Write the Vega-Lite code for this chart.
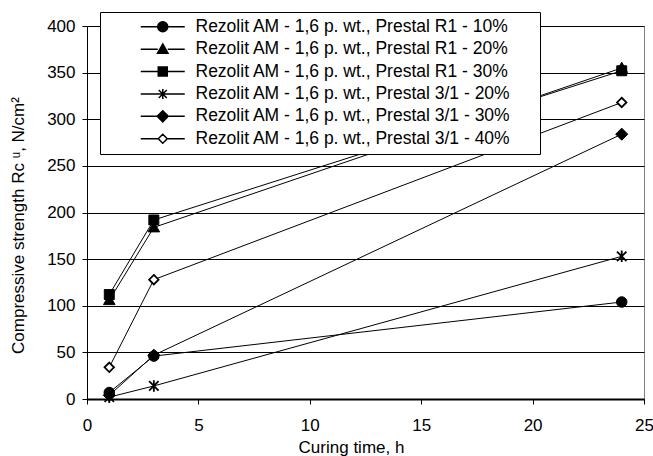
{
  "$schema": "https://vega.github.io/schema/vega-lite/v6.json",
  "width": 557,
  "height": 373,
  "autosize": "none",
  "padding": {"left": 87, "top": 26, "right": 9, "bottom": 57},
  "background": "white",
  "config": {
    "font": "Liberation Sans",
    "view": {"stroke": "#808080", "strokeWidth": 1},
    "axis": {
      "labelFont": "Liberation Sans",
      "labelFontSize": 17,
      "labelColor": "black",
      "titleFont": "Liberation Sans",
      "titleFontSize": 17,
      "titleFontWeight": "normal",
      "titleColor": "black",
      "tickColor": "black",
      "tickSize": 5,
      "domainColor": "black"
    },
    "legend": {
      "orient": "none",
      "legendX": 13,
      "legendY": -14,
      "strokeColor": "black",
      "fillColor": "white",
      "padding": 6,
      "labelFont": "Liberation Sans",
      "labelFontSize": 17.5,
      "labelColor": "black",
      "titleFont": "Liberation Sans",
      "titleFontSize": 17.5,
      "titleOrient": "right",
      "titlePadding": 23,
      "symbolSize": 100,
      "symbolOffset": 48,
      "symbolOpacity": 1,
      "labelOffset": 24,
      "rowPadding": 3.4,
      "labelLimit": 600
    }
  },
  "data": {
    "values": [
      {"s": "Rezolit AM - 1,6 p. wt., Prestal R1 - 10%", "t": 1, "v": 7},
      {"s": "Rezolit AM - 1,6 p. wt., Prestal R1 - 10%", "t": 3, "v": 46},
      {"s": "Rezolit AM - 1,6 p. wt., Prestal R1 - 10%", "t": 24, "v": 104},
      {"s": "Rezolit AM - 1,6 p. wt., Prestal R1 - 20%", "t": 1, "v": 106},
      {"s": "Rezolit AM - 1,6 p. wt., Prestal R1 - 20%", "t": 3, "v": 184},
      {"s": "Rezolit AM - 1,6 p. wt., Prestal R1 - 20%", "t": 24, "v": 355},
      {"s": "Rezolit AM - 1,6 p. wt., Prestal R1 - 30%", "t": 1, "v": 112},
      {"s": "Rezolit AM - 1,6 p. wt., Prestal R1 - 30%", "t": 3, "v": 192},
      {"s": "Rezolit AM - 1,6 p. wt., Prestal R1 - 30%", "t": 24, "v": 352},
      {"s": "Rezolit AM - 1,6 p. wt., Prestal 3/1 - 20%", "t": 1, "v": 2},
      {"s": "Rezolit AM - 1,6 p. wt., Prestal 3/1 - 20%", "t": 3, "v": 14},
      {"s": "Rezolit AM - 1,6 p. wt., Prestal 3/1 - 20%", "t": 24, "v": 153},
      {"s": "Rezolit AM - 1,6 p. wt., Prestal 3/1 - 30%", "t": 1, "v": 4},
      {"s": "Rezolit AM - 1,6 p. wt., Prestal 3/1 - 30%", "t": 3, "v": 47},
      {"s": "Rezolit AM - 1,6 p. wt., Prestal 3/1 - 30%", "t": 24, "v": 284},
      {"s": "Rezolit AM - 1,6 p. wt., Prestal 3/1 - 40%", "t": 1, "v": 34},
      {"s": "Rezolit AM - 1,6 p. wt., Prestal 3/1 - 40%", "t": 3, "v": 128},
      {"s": "Rezolit AM - 1,6 p. wt., Prestal 3/1 - 40%", "t": 24, "v": 318}
    ]
  },
  "encoding": {
    "x": {
      "field": "t",
      "type": "quantitative",
      "scale": {"domain": [0, 25], "nice": false},
      "axis": {
        "values": [0, 5, 10, 15, 20, 25],
        "grid": false,
        "domainWidth": 2,
        "labelPadding": 13,
        "title": "Curing time, h",
        "titlePadding": 6,
        "titleX": 264,
        "labelFlush": false
      }
    },
    "y": {
      "field": "v",
      "type": "quantitative",
      "scale": {"domain": [0, 400], "nice": false},
      "axis": {
        "values": [0, 50, 100, 150, 200, 250, 300, 350, 400],
        "grid": true,
        "gridColor": "black",
        "gridWidth": 1,
        "domainWidth": 1,
        "labelPadding": 7,
        "title": "Compressive strength Rc ᵘ, N/cm²",
        "titlePadding": 19,
        "titleY": 199
      }
    }
  },
  "layer": [
    {
      "mark": {"type": "line", "color": "black", "strokeWidth": 1},
      "encoding": {"detail": {"field": "s", "type": "nominal"}}
    },
    {
      "mark": {"type": "point", "filled": true, "fill": "black", "stroke": "black", "strokeWidth": 1, "size": 110, "opacity": 1, "shape": "M1,0A1,1,0,1,1,-1,0A1,1,0,1,1,1,0Z"},
      "transform": [{"filter": "datum.s == 'Rezolit AM - 1,6 p. wt., Prestal R1 - 10%'"}]
    },
    {
      "mark": {"type": "point", "filled": true, "fill": "black", "stroke": "black", "strokeWidth": 1, "size": 110, "opacity": 1, "shape": "M0,-1.1L1.1,0.85L-1.1,0.85Z"},
      "transform": [{"filter": "datum.s == 'Rezolit AM - 1,6 p. wt., Prestal R1 - 20%'"}]
    },
    {
      "mark": {"type": "point", "filled": true, "fill": "black", "stroke": "black", "strokeWidth": 1, "size": 110, "opacity": 1, "shape": "M-0.95,-0.95L0.95,-0.95L0.95,0.95L-0.95,0.95Z"},
      "transform": [{"filter": "datum.s == 'Rezolit AM - 1,6 p. wt., Prestal R1 - 30%'"}]
    },
    {
      "mark": {"type": "point", "filled": false, "stroke": "black", "strokeWidth": 1.8, "size": 110, "opacity": 1, "shape": "M-0.9,-0.9L0.9,0.9M-0.9,0.9L0.9,-0.9M0,-1.1L0,1.1"},
      "transform": [{"filter": "datum.s == 'Rezolit AM - 1,6 p. wt., Prestal 3/1 - 20%'"}]
    },
    {
      "mark": {"type": "point", "filled": true, "fill": "black", "stroke": "black", "strokeWidth": 1, "size": 110, "opacity": 1, "shape": "M0,-1.15L1.15,0L0,1.15L-1.15,0Z"},
      "transform": [{"filter": "datum.s == 'Rezolit AM - 1,6 p. wt., Prestal 3/1 - 30%'"}]
    },
    {
      "mark": {"type": "point", "filled": true, "fill": "white", "stroke": "black", "strokeWidth": 1.8, "size": 110, "opacity": 1, "shape": "M0,-0.9L0.9,0L0,0.9L-0.9,0Z"},
      "transform": [{"filter": "datum.s == 'Rezolit AM - 1,6 p. wt., Prestal 3/1 - 40%'"}]
    },
    {
      "mark": {"type": "point", "filled": true, "stroke": "black", "opacity": 0},
      "encoding": {
        "shape": {
          "field": "s",
          "type": "nominal",
          "scale": {
            "domain": [
              "Rezolit AM - 1,6 p. wt., Prestal R1 - 10%",
              "Rezolit AM - 1,6 p. wt., Prestal R1 - 20%",
              "Rezolit AM - 1,6 p. wt., Prestal R1 - 30%",
              "Rezolit AM - 1,6 p. wt., Prestal 3/1 - 20%",
              "Rezolit AM - 1,6 p. wt., Prestal 3/1 - 30%",
              "Rezolit AM - 1,6 p. wt., Prestal 3/1 - 40%"
            ],
            "range": [
              "M-4.4,0L-1,0M1,0L4.4,0M1,0A1,1,0,1,1,-1,0A1,1,0,1,1,1,0Z",
              "M-4.4,0L-1,0M1,0L4.4,0M0,-1.05L1.05,0.8L-1.05,0.8Z",
              "M-4.4,0L-1,0M1,0L4.4,0M-0.9,-0.9L0.9,-0.9L0.9,0.9L-0.9,0.9Z",
              "M-4.4,0L4.4,0M-0.8,-0.8L0.8,0.8M-0.8,0.8L0.8,-0.8M0,-1L0,1",
              "M-4.4,0L-1.1,0M1.1,0L4.4,0M0,-1.1L1.1,0L0,1.1L-1.1,0Z",
              "M-4.4,0L-0.9,0M0.9,0L4.4,0M0,-0.9L0.9,0L0,0.9L-0.9,0Z"
            ]
          },
          "legend": {
            "title": "  ",
            "encode": {
              "symbols": {
                "update": {
                  "stroke": {"value": "black"},
                  "strokeWidth": {"value": 1.2},
                  "opacity": {"value": 1}
                }
              }
            }
          }
        },
        "fill": {
          "field": "s",
          "type": "nominal",
          "scale": {
            "domain": [
              "Rezolit AM - 1,6 p. wt., Prestal R1 - 10%",
              "Rezolit AM - 1,6 p. wt., Prestal R1 - 20%",
              "Rezolit AM - 1,6 p. wt., Prestal R1 - 30%",
              "Rezolit AM - 1,6 p. wt., Prestal 3/1 - 20%",
              "Rezolit AM - 1,6 p. wt., Prestal 3/1 - 30%",
              "Rezolit AM - 1,6 p. wt., Prestal 3/1 - 40%"
            ],
            "range": ["black", "black", "black", "black", "black", "white"]
          },
          "legend": {
            "title": "  ",
            "encode": {
              "symbols": {
                "update": {
                  "stroke": {"value": "black"},
                  "strokeWidth": {"value": 1.2},
                  "opacity": {"value": 1}
                }
              }
            }
          }
        }
      }
    }
  ]
}
